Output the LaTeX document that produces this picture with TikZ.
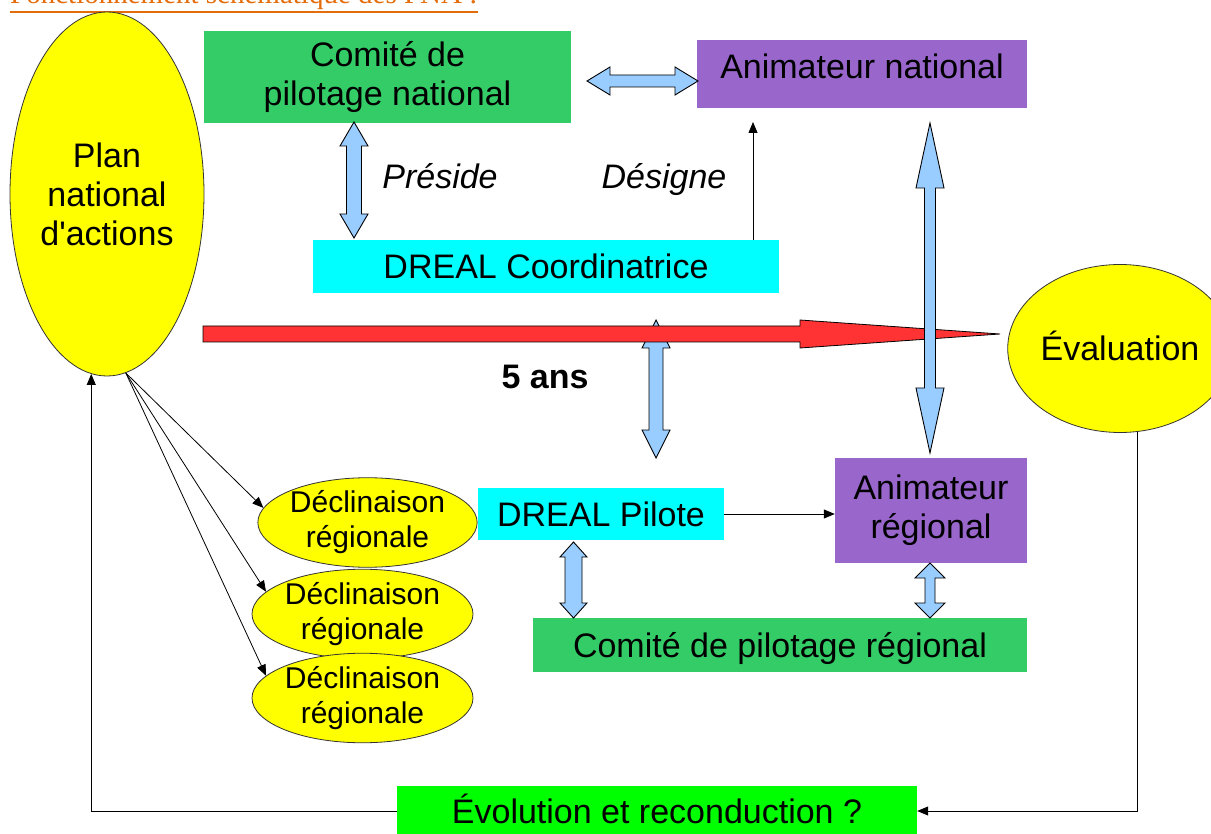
\documentclass[tikz,border=0pt]{standalone}
\usepackage{fontspec}
\setmainfont{Liberation Sans}
\newfontfamily\titlefont{Liberation Serif}
\usetikzlibrary{shapes.geometric,arrows.meta,calc}
\definecolor{cgreen}{HTML}{33CC66}
\definecolor{cpurple}{HTML}{9966CC}
\definecolor{ccyan}{HTML}{00FFFF}
\definecolor{clime}{HTML}{00FF00}
\definecolor{cyellow}{HTML}{FFFF00}
\definecolor{cblue}{HTML}{99CCFF}
\definecolor{cred}{HTML}{FF3333}
\definecolor{corange}{HTML}{E46C0A}
\newcommand\vdbl[6]{% x, ytop, ybot, half shaft, half head, head length
  \filldraw[blockarrow] (#1,#2) -- ({#1+#5},{#2+#6}) -- ({#1+#4},{#2+#6}) -- ({#1+#4},{#3-#6}) -- ({#1+#5},{#3-#6}) -- (#1,#3) -- ({#1-#5},{#3-#6}) -- ({#1-#4},{#3-#6}) -- ({#1-#4},{#2+#6}) -- ({#1-#5},{#2+#6}) -- cycle;}
\newcommand\hdbl[6]{% y, xleft, xright, half shaft, half head, head length
  \filldraw[blockarrow] (#2,#1) -- ({#2+#6},{#1-#5}) -- ({#2+#6},{#1-#4}) -- ({#3-#6},{#1-#4}) -- ({#3-#6},{#1-#5}) -- (#3,#1) -- ({#3-#6},{#1+#5}) -- ({#3-#6},{#1+#4}) -- ({#2+#6},{#1+#4}) -- ({#2+#6},{#1+#5}) -- cycle;}
\begin{document}
\begin{tikzpicture}[x=1pt,y=-1pt,
  lbl/.style={font=\fontsize{34}{39}\selectfont, align=center, inner sep=0pt},
  box/.style={lbl, draw=none, rectangle},
  oneline/.style={text height=25pt, text depth=1pt},
  oval/.style={lbl, ellipse, draw=black!80, line width=0.8pt, fill=cyellow},
  small/.style={font=\fontsize{30}{35}\selectfont},
  blockarrow/.style={fill=cblue, draw=black, line width=0.9pt, line join=miter},
  thinarrow/.style={draw=black, line width=0.8pt, -{Triangle[length=11pt,width=9pt]}},
]
\useasboundingbox (0,0) rectangle (1211,834);
\fill[white] (0,0) rectangle (1211,834);

% title (partly cut off at the top, as in the source)
\node[anchor=base west, inner sep=0pt, text=corange, font=\titlefont\fontsize{29}{33}\selectfont] (title) at (10,4) {Fonctionnement schématique des PNA :};
\draw[corange, line width=1.5pt] ([yshift=-8pt]title.base west) -- ([yshift=-8pt]title.base east);

% nodes
\node[oval, minimum width=194, minimum height=364] (plan) at (107,194) {Plan\\national\\d\textquotesingle actions};
\node[box, fill=cgreen, minimum width=367, minimum height=92] (comn) at (387.5,77) {Comité de\\pilotage national};
\node[box, fill=cpurple, minimum width=330, minimum height=68, text height=25pt, text depth=15pt] (anin) at (862,74) {Animateur national};
\node[box, fill=ccyan, minimum width=466, minimum height=53, oneline] (dcoord) at (546,266.5) {DREAL Coordinatrice};
\node[lbl, anchor=base, font=\fontsize{34}{39}\selectfont\itshape] (preside) at (440,189) {Préside};
\node[lbl, anchor=base, font=\fontsize{34}{39}\selectfont\itshape] (designe) at (664,189) {Désigne};
\node[lbl, oneline, font=\fontsize{34}{39}\selectfont\bfseries] (ans) at (545,377) {5 ans};
\node[oval, oneline, minimum width=184, minimum height=168] (eval) at (1120,348.5) {Évaluation};
\node[oval, small, minimum width=219, minimum height=79] (dec1) at (367.5,522.5) {Déclinaison\\régionale};
\node[oval, small, minimum width=221, minimum height=78] (dec2) at (362.5,614) {Déclinaison\\régionale};
\node[oval, small, minimum width=221, minimum height=80] (dec3) at (362.5,698) {Déclinaison\\régionale};
\node[box, fill=ccyan, minimum width=246, minimum height=52, oneline] (dpil) at (601,514) {DREAL Pilote};
\node[box, fill=cpurple, minimum width=192, minimum height=105] (anir) at (931,510.5) {Animateur\\régional};
\node[box, fill=cgreen, minimum width=494, minimum height=54, oneline] (comr) at (780,645) {Comité de pilotage régional};
\node[box, fill=clime, minimum width=520, minimum height=50, oneline] (evol) at (657,811) {Évolution et reconduction ?};

% block arrows
\hdbl{81}{587}{698}{6}{14}{23}
\vdbl{354}{122}{238}{7.5}{14}{24}
\vdbl{656}{320}{458}{7}{14}{28}
\filldraw[fill=cred, draw=black, line width=0.8pt] (203,326) -- (800,326) -- (800,320) -- (1000,334) -- (800,348) -- (800,342) -- (203,342) -- cycle;
\vdbl{930}{123}{453}{5.5}{14}{65}
\vdbl{573.5}{542}{618}{8.5}{13.5}{15}
\vdbl{930}{563}{618}{5}{15}{15}

% thin connectors
\coordinate (destip) at (753,122);
\draw[thinarrow] (dcoord.north -| destip) -- (destip);
\draw[thinarrow] (dpil.east) -- (dpil.east -| anir.west);
\draw[thinarrow] (plan.-84) -- (dec1.172);
\draw[thinarrow] (plan.-84) -- (dec2.167);
\draw[thinarrow] (plan.-84) -- (dec3.167);
\draw[thinarrow] (eval.-78) |- (evol.east);
\draw[thinarrow] (evol.west) -| (plan.-95);
\end{tikzpicture}
\end{document}
